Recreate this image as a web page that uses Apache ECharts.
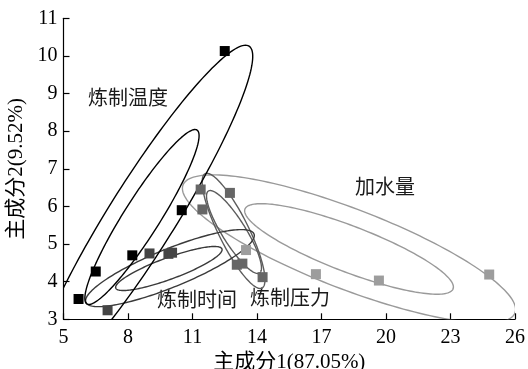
<!DOCTYPE html>
<html>
<head>
<meta charset="utf-8">
<script src="https://cdn.jsdelivr.net/npm/echarts@6/dist/echarts.min.js"></script>
<style>
  html, body { margin: 0; padding: 0; background: #fff; }
  #chart { width: 528px; height: 369px; }
</style>
</head>
<body>
<div id="chart"></div>
<script>
// Axis ticks
const xTicks = [5, 8, 11, 14, 17, 20, 23, 26];
const yTicks = [3, 4, 5, 6, 7, 8, 9, 10, 11];

// Group names
const groupNames = ['炼制温度', '炼制时间', '炼制压力', '加水量'];

// PCA scores [PC1, PC2] per factor
const temperaturePts = [[12.5, 10.13], [6.5, 4.27], [8.2, 4.7], [10.5, 5.9], [5.7, 3.54]];
const timePts = [[7.05, 3.24], [9.0, 4.75], [9.88, 4.74], [10.05, 4.77]];
const pressurePts = [[11.38, 6.45], [12.74, 6.36], [11.46, 5.92], [13.06, 4.45], [13.32, 4.48], [14.26, 4.12]];
const waterPts = [[13.49, 4.84], [16.74, 4.2], [19.67, 4.03], [24.8, 4.19]];

// Confidence ellipses: [centerX, centerY, majorTipX, majorTipY, minor/major ratio]
const temperatureEllipses = [[8.65, 5.72, 11.21, 8.03, 0.175], [8.65, 5.72, 13.63, 10.26, 0.166]];
const timeEllipses = [[9.9, 4.35, 12.37, 4.87, 0.19], [9.95, 4.36, 13.86, 5.27, 0.21]];
const pressureEllipses = [[12.93, 5.32, 14.12, 4.23, 0.245], [12.91, 5.35, 14.23, 3.83, 0.235]];
const waterEllipses = [[18.28, 4.87, 23.12, 3.81, 0.206], [18.28, 4.87, 26.0, 3.17, 0.225]];

const serifFont = "'Liberation Serif', 'Noto Sans CJK SC', serif";

function ellipseRenderer(color, width) {
  return function (params, api) {
    const c = api.coord([api.value(0), api.value(1)]);
    const t = api.coord([api.value(2), api.value(3)]);
    const ratio = api.value(4);
    const ax = t[0] - c[0], ay = t[1] - c[1];
    const bx = -ay * ratio, by = ax * ratio;
    const pts = [];
    const N = 180;
    for (let i = 0; i < N; i++) {
      const a = i / N * Math.PI * 2;
      pts.push([c[0] + ax * Math.cos(a) + bx * Math.sin(a),
                c[1] + ay * Math.cos(a) + by * Math.sin(a)]);
    }
    const cs = params.coordSys;
    return {
      type: 'polygon',
      shape: { points: pts },
      style: { fill: 'none', stroke: color, lineWidth: width },
      clipPath: { type: 'rect', shape: { x: cs.x, y: cs.y, width: cs.width, height: cs.height } }
    };
  };
}

function ellipseSeries(data, color) {
  return {
    type: 'custom',
    data: data,
    renderItem: ellipseRenderer(color, 1.4),
    encode: { x: [0, 2], y: [1, 3] },
    silent: true,
    z: 2
  };
}

function pointSeries(name, data, color) {
  return {
    name: name,
    type: 'scatter',
    data: data,
    symbol: 'rect',
    symbolSize: 10,
    itemStyle: { color: color, opacity: 1 },
    z: 3
  };
}

const chart = echarts.init(document.getElementById('chart'), null, { renderer: 'canvas' });

const labelStyle = { fontSize: 20, fontFamily: serifFont, fill: '#1a1a1a' };

chart.setOption({
  animation: false,
  backgroundColor: '#fff',
  grid: { left: 63.5, right: 13, top: 18.3, bottom: 49.7, containLabel: false, outerBoundsMode: 'none' },
  xAxis: {
    type: 'value',
    min: 5,
    max: 26,
    name: '主成分1(87.05%)',
    nameLocation: 'middle',
    nameGap: 27,
    nameTextStyle: { fontSize: 21, fontFamily: serifFont, color: '#000' },
    axisLine: { show: true, lineStyle: { color: '#000', width: 1.2 } },
    axisTick: { show: true, inside: true, length: 6, customValues: xTicks, lineStyle: { color: '#000', width: 1.2 } },
    axisLabel: { customValues: xTicks, fontSize: 20, fontFamily: serifFont, color: '#000', margin: 8 },
    splitLine: { show: false }
  },
  yAxis: {
    type: 'value',
    min: 3,
    max: 11,
    interval: 1,
    name: '主成分2(9.52%)',
    nameLocation: 'middle',
    nameGap: 30,
    nameTextStyle: { fontSize: 21, fontFamily: serifFont, color: '#000' },
    axisLine: { show: true, lineStyle: { color: '#000', width: 1.2 } },
    axisTick: { show: true, inside: true, length: 6, customValues: yTicks, lineStyle: { color: '#000', width: 1.2 } },
    axisLabel: { customValues: yTicks, fontSize: 20, fontFamily: serifFont, color: '#000', margin: 6 },
    splitLine: { show: false }
  },
  graphic: [
    { type: 'text', x: 88, y: 100, style: Object.assign({ text: groupNames[0], verticalAlign: 'middle' }, labelStyle) },
    { type: 'text', x: 157, y: 302, style: Object.assign({ text: groupNames[1], verticalAlign: 'middle' }, labelStyle) },
    { type: 'text', x: 250, y: 300, style: Object.assign({ text: groupNames[2], verticalAlign: 'middle' }, labelStyle) },
    { type: 'text', x: 355, y: 189, style: Object.assign({ text: groupNames[3], verticalAlign: 'middle' }, labelStyle) }
  ],
  series: [
    ellipseSeries(waterEllipses, '#9a9a9a'),
    ellipseSeries(pressureEllipses, '#5c5c5c'),
    ellipseSeries(timeEllipses, '#3a3a3a'),
    ellipseSeries(temperatureEllipses, '#000'),
    pointSeries(groupNames[3], waterPts, '#9d9d9d'),
    pointSeries(groupNames[2], pressurePts, '#666666'),
    pointSeries(groupNames[1], timePts, '#454545'),
    pointSeries(groupNames[0], temperaturePts, '#000')
  ]
});
</script>
</body>
</html>
